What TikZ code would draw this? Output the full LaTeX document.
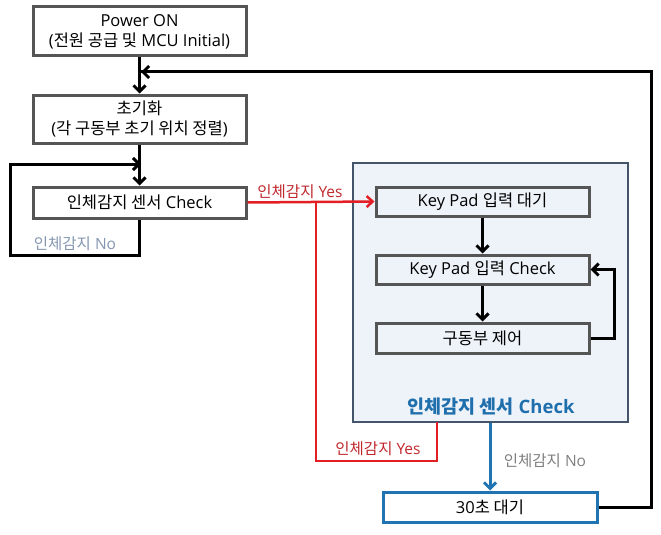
\documentclass[tikz,border=0pt]{standalone}
\usepackage{fontspec}
\setmainfont{Open Sans}
\newfontfamily\kr{Noto Sans CJK KR}
\newcommand{\K}[1]{{\kr #1}}
\usetikzlibrary{arrows.meta}
\definecolor{boxborder}{HTML}{555555}
\definecolor{contborder}{HTML}{44546A}
\definecolor{contfill}{HTML}{EEF3FA}
\definecolor{redline}{HTML}{E31E24}
\definecolor{redtext}{HTML}{C0282D}
\definecolor{blueline}{HTML}{1F74B1}
\definecolor{titleblue}{HTML}{1F6FAD}
\definecolor{nogray}{HTML}{7F7F7F}
\definecolor{noblue}{HTML}{8496B0}
\tikzset{
  flowbox/.style={draw=boxborder, line width=3pt, fill=white, rectangle, minimum width=213pt, align=center, inner sep=0pt, font=\fontsize{16.5}{20}\selectfont},
  innerbox/.style={flowbox, fill=contfill},
  arr/.style={line width=3pt, -{Straight Barb[length=6pt,width=12pt]}},
  plain/.style={line width=3pt},
  redarr/.style={draw=redline, line width=2.5pt, -{Straight Barb[length=6pt,width=11pt]}},
  redplain/.style={draw=redline, line width=2.5pt},
  bluearr/.style={draw=blueline, line width=3pt, -{Straight Barb[length=6pt,width=12pt]}},
  lbl/.style={font=\fontsize{15.5}{18}\selectfont, inner sep=0pt}
}
\begin{document}
\begin{tikzpicture}[x=1pt,y=-1pt]
\useasboundingbox (0,0) rectangle (661,535);
% container
\node[draw=contborder, line width=2.5pt, fill=contfill, minimum width=275pt, minimum height=259pt, inner sep=0pt] (cont) at (490.5,292.5) {};
\node[font=\bfseries\fontsize{18.5}{22}\selectfont, text=titleblue] (title) at (491,407) {\K{인체감지 센서} Check};
% left column
\node[flowbox, minimum height=49pt] (b1) at (139.5,31.5) {Power ON\\(\K{전원 공급 및} MCU Initial)};
\node[flowbox, minimum height=48pt] (b2) at (139.5,119) {\K{초기화}\\(\K{각 구동부 초기 위치 정렬})};
\node[flowbox, minimum height=31pt] (b3) at (139.5,202.5) {\K{인체감지 센서} Check};
% inner boxes
\node[innerbox, minimum height=29pt] (kp1) at (482.5,201.5) {Key Pad \K{입력 대기}};
\node[innerbox, minimum height=29pt] (kp2) at (482.5,269.5) {Key Pad \K{입력} Check};
\node[innerbox, minimum height=30pt] (kp3) at (482.5,338) {\K{구동부 제어}};
% 30s box
\node[flowbox, draw=blueline, minimum width=214pt, minimum height=30pt] (t30) at (490,507) {30\K{초 대기}};
% coordinates
\coordinate (nl1) at (10,255);
\coordinate (nl2) at (10,164);
\coordinate (ry1) at (316,202.5);
\coordinate (ry2) at (316,461);
\coordinate (ry3) at (437,461);
\coordinate (ry4) at (437,422);
\coordinate (rt1) at (651,507);
\coordinate (rt2) at (651,72);
\coordinate (rt3) at (139.5,72);
% connectors
\draw[arr] (b1.south) -- (b2.north);
\draw[arr] (b2.south) -- (b3.north);
\draw[plain, line join=miter] (b3.south) -- (b3.south |- nl1) -- (nl1) -- (nl2) -- (b3.north |- nl2);
\draw[arr] (nl2) -- ([xshift=1.5pt]b3.north |- nl2);
\draw[redarr] (b3.east) -- (kp1.west);
\draw[redplain, line join=miter] (ry1) -- (ry2) -- (ry3) -- (ry4);
\draw[arr] (kp1.south) -- (kp2.north);
\draw[arr] (kp2.south) -- (kp3.north);
\draw[arr, line join=miter] (kp3.east) -- ++(24,0) |- (kp2.east);
\draw[bluearr] (t30.north |- cont.south) -- (t30.north);
\draw[plain, line join=miter] (t30.east) -- (rt1) -- (rt2) -- ([xshift=1.5pt]rt3);
\draw[arr] (rt2) -- ([xshift=1.5pt]rt3);
% labels
\node[lbl, text=noblue] (lno) at (75,244) {\K{인체감지} No};
\node[lbl, text=redtext] (lyes1) at (300,192) {\K{인체감지} Yes};
\node[lbl, text=redtext] (lyes2) at (378,449) {\K{인체감지} Yes};
\node[lbl, text=nogray] (rno) at (545,461) {\K{인체감지} No};
\end{tikzpicture}
\end{document}
